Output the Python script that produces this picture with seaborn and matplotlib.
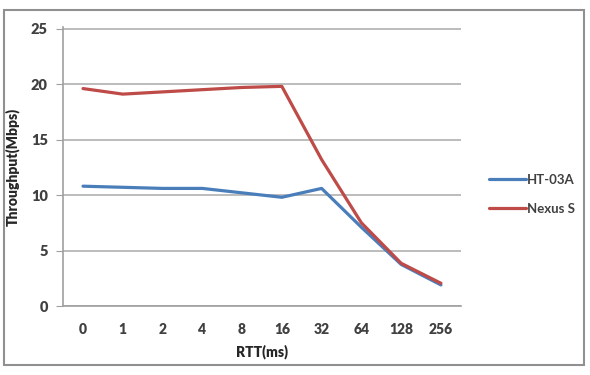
import numpy as np
import pandas as pd
import matplotlib
matplotlib.use('Agg')
import matplotlib.pyplot as plt
from matplotlib.patches import Rectangle
import seaborn as sns

rtt_labels = ["0", "1", "2", "4", "8", "16", "32", "64", "128", "256"]
ht03a = [10.8, 10.7, 10.6, 10.6, 10.2, 9.8, 10.6, 7.1, 3.75, 1.9]
nexus_s = [19.6, 19.1, 19.3, 19.5, 19.7, 19.8, 13.2, 7.5, 3.85, 2.05]
y_ticks = [0, 5, 10, 15, 20, 25]

df = pd.DataFrame({
    "RTT": rtt_labels * 2,
    "Throughput": ht03a + nexus_s,
    "Device": ["HT-03A"] * len(rtt_labels) + ["Nexus S"] * len(rtt_labels),
})

sns.set_style("white")
plt.rcParams['font.family'] = ['Lato', 'DejaVu Sans']

fig = plt.figure(figsize=(5.9, 3.75), dpi=100)
ax = fig.add_axes([0.107, 0.184, 0.674, 0.744])

palette = {"HT-03A": "#4a7ebb", "Nexus S": "#be4b48"}
sns.lineplot(data=df, x="RTT", y="Throughput", hue="Device", palette=palette,
             linewidth=2.3, ax=ax, sort=False)

ax.set_xlim(-0.5, len(rtt_labels) - 0.5)
ax.set_ylim(0, 25.15)
ax.set_yticks(y_ticks)
ax.yaxis.grid(True, color="#b0b0b0", linewidth=1.2)
ax.set_axisbelow(True)
for s in ["top", "right"]:
    ax.spines[s].set_visible(False)
for s in ["left", "bottom"]:
    ax.spines[s].set_color("#a0a0a0")
    ax.spines[s].set_linewidth(1.2)

ax.tick_params(axis="y", length=5, color="#a0a0a0", left=True, labelsize=10.5,
               labelcolor="#404040", pad=6)
ax.tick_params(axis="x", length=0, labelsize=10, labelcolor="#404040", pad=12)
for lab in ax.get_xticklabels() + ax.get_yticklabels():
    lab.set_fontweight("heavy")

ax.set_xlabel("RTT(ms)", fontsize=10, fontweight="heavy", labelpad=6)
ax.set_ylabel("Throughput(Mbps)", fontsize=10, fontweight="heavy", labelpad=8)

leg = ax.legend(loc="center left", bbox_to_anchor=(1.04, 0.4), frameon=False,
                fontsize=9.5, handlelength=2.8, handletextpad=0.1, labelspacing=1.3)
for t in leg.get_texts():
    t.set_fontweight("bold")
    t.set_color("#404040")

fig.patches.append(Rectangle((0.006, 0.027), 0.983, 0.947, transform=fig.transFigure,
                             fill=False, edgecolor="#909090", linewidth=1.5))

fig.savefig("out.png", dpi=100)
plt.close(fig)
